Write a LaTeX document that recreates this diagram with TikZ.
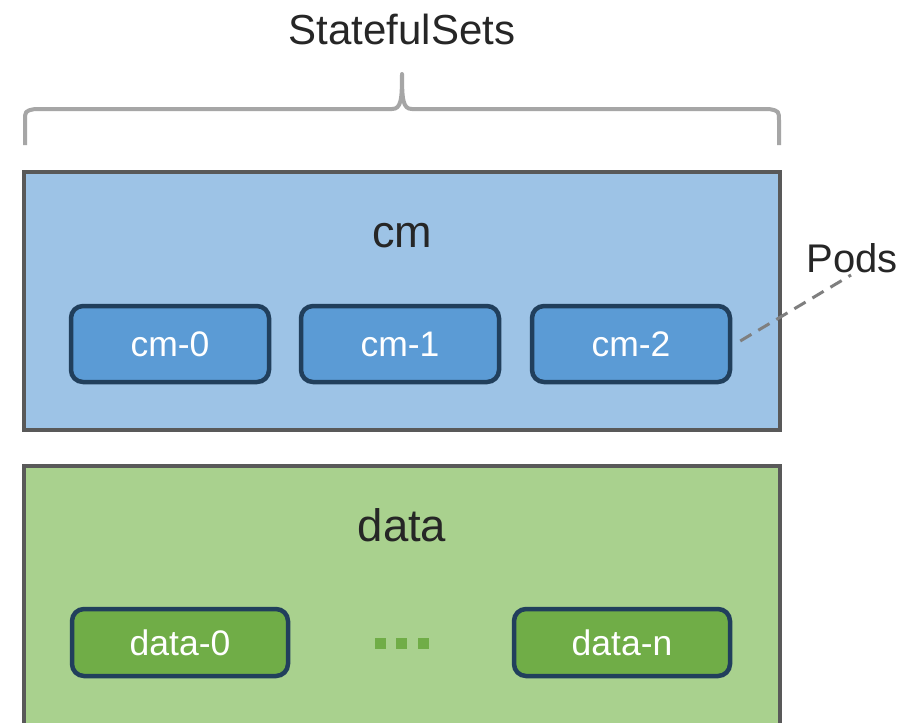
\documentclass[tikz,border=0pt]{standalone}
\usepackage{fontspec}
\setmainfont{Liberation Sans}
\definecolor{framegray}{HTML}{595959}
\definecolor{bracegray}{HTML}{A6A6A6}
\definecolor{dashgray}{HTML}{7F7F7F}
\definecolor{textgray}{HTML}{262626}
\definecolor{cmfill}{HTML}{9DC3E6}
\definecolor{cmpod}{HTML}{5B9BD5}
\definecolor{datafill}{HTML}{A9D18E}
\definecolor{datapod}{HTML}{70AD47}
\definecolor{podedge}{HTML}{213F5C}
\begin{document}
\begin{tikzpicture}[x=1pt,y=-1pt,
  setbox/.style={draw=framegray, line width=4pt, rectangle, inner sep=0pt,
    minimum width=756pt},
  podbox/.style={draw=podedge, line width=4.5pt, rectangle, rounded corners=12pt,
    inner sep=0pt, minimum height=76pt, text=white,
    font=\fontsize{35.5}{42}\selectfont},
  title/.style={text=textgray, inner sep=0pt, anchor=base},
  dotsq/.style={fill=datapod, inner sep=0pt, minimum size=11pt, rectangle}]
\clip (0,0) rectangle (903,723);
\fill[white] (0,0) rectangle (903,723);

% StatefulSets brace and heading
\node[title, font=\fontsize{42}{50}\selectfont] (sets) at (402,44) {StatefulSets};
\draw[bracegray, line width=4pt, line join=round]
  (25,145) -- (25,121) .. controls (25,111) .. (35,109) -- (392,109)
  .. controls (401,109) and (402,100) .. (402,74)
  .. controls (402,100) and (403,109) .. (412,109) -- (769,109)
  .. controls (779,111) .. (779,121) -- (779,145);

% cm StatefulSet
\node[setbox, fill=cmfill, minimum height=258pt] (cmset) at (402,301) {};
\node[title, font=\fontsize{45}{54}\selectfont] (cmlabel) at (402,247) {cm};
\node[podbox, fill=cmpod, minimum width=198pt] (cm0) at (170,344) {cm-0};
\node[podbox, fill=cmpod, minimum width=198pt] (cm1) at (400,344) {cm-1};
\node[podbox, fill=cmpod, minimum width=198pt] (cm2) at (631,344) {cm-2};

% Pods callout
\node[title, font=\fontsize{40}{48}\selectfont] (pods) at (852,272) {Pods};
\coordinate (podstip) at (851,275);
\draw[dashgray, line width=3pt, dash pattern=on 13pt off 8pt]
  ([xshift=8pt,yshift=3pt]cm2.east) -- (podstip);

% data StatefulSet
\node[setbox, fill=datafill, minimum height=280pt] (dataset) at (402,606) {};
\node[title, font=\fontsize{45.5}{54}\selectfont] (datalabel) at (402,541) {data};
\node[podbox, fill=datapod, minimum width=216pt, minimum height=67pt] (data0) at (180,642.5) {data-0};
\node[podbox, fill=datapod, minimum width=216pt, minimum height=67pt] (datan) at (622,642.5) {data-n};
\node[dotsq] (dot1) at (380,643.5) {};
\node[dotsq] (dot2) at (401,643.5) {};
\node[dotsq] (dot3) at (423,643.5) {};
\end{tikzpicture}
\end{document}
